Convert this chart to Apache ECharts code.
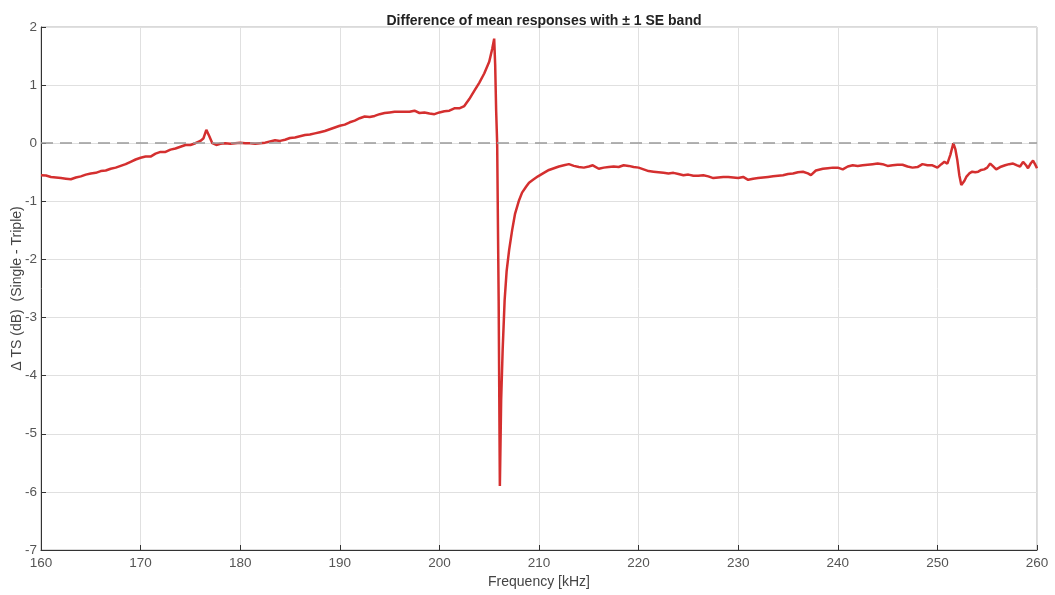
<!DOCTYPE html>
<html>
<head>
<meta charset="utf-8">
<script src="https://cdn.jsdelivr.net/npm/echarts@6/dist/echarts.min.js"></script>
<style>
html,body{margin:0;padding:0;background:#fff;}
#chart{width:1055px;height:595px;}
</style>
</head>
<body>
<div id="chart"></div>
<script>
// Frequency samples (kHz)
const freqKHz = [
  160,160.5,161,161.5,162,162.5,163,163.5,164,164.5,
  165,165.5,166,166.5,167,167.5,168,168.5,169,169.5,
  170,170.5,171,171.5,172,172.5,173,173.5,174,174.5,
  175,175.5,176,176.3,176.6,176.9,177.2,177.6,178,178.5,
  179,179.5,180,180.5,181,181.5,182,182.5,183,183.5,
  184,184.5,185,185.5,186,186.5,187,187.5,188,188.5,
  189,189.5,190,190.5,191,191.5,192,192.5,193,193.5,
  194,194.5,195,195.5,196,196.5,197,197.5,198,198.5,
  199,199.5,200,200.5,201,201.5,202,202.5,203,203.5,
  204,204.5,205,205.3,205.5,205.6,205.7,205.8,205.95,206.07,
  206.15,206.2,206.35,206.55,206.75,207.0,207.3,207.6,208.0,208.3,
  208.7,209.0,209.4,209.9,210.4,211,211.5,212,212.5,
  213,213.5,214,214.5,215,215.4,216,216.5,217,217.5,
  218,218.5,219,219.5,220,220.5,221,221.5,222,222.5,
  223,223.5,224,224.5,225,225.5,226,226.5,227,227.5,
  228,228.5,229,229.5,230,230.5,231,231.5,232,232.5,
  233,233.5,234,234.5,235,235.5,236,236.5,237,237.3,
  237.8,238.5,239,239.5,240,240.5,241,241.5,242,242.5,
  243,243.5,244,244.5,245,245.5,246,246.5,247,247.5,
  248,248.5,249,249.5,250,250.4,250.7,251,251.3,251.6,
  251.8,252,252.2,252.4,252.7,252.9,253.2,253.5,253.8,254.1,
  254.4,254.7,255,255.3,255.6,255.9,256.3,256.8,257.2,257.6,
  258,258.3,258.6,258.9,259.1,259.4,259.6,259.8,260
];
// Mean difference ΔTS (dB), Single - Triple
const meanDiff = [
  -0.55,-0.555,-0.58,-0.59,-0.60,-0.61,-0.62,-0.59,-0.57,-0.54,
  -0.52,-0.51,-0.48,-0.47,-0.44,-0.42,-0.39,-0.36,-0.32,-0.28,
  -0.25,-0.23,-0.23,-0.18,-0.15,-0.15,-0.11,-0.09,-0.06,-0.03,
  -0.03,0.0,0.04,0.08,0.23,0.12,0.0,-0.03,-0.01,0.0,
  -0.01,0.0,0.01,0.0,0.0,-0.01,0.0,0.01,0.03,0.05,
  0.04,0.06,0.09,0.10,0.12,0.14,0.15,0.17,0.19,0.21,
  0.24,0.27,0.30,0.32,0.36,0.39,0.43,0.46,0.45,0.47,
  0.50,0.52,0.53,0.54,0.54,0.54,0.54,0.56,0.52,0.53,
  0.51,0.50,0.53,0.55,0.56,0.60,0.60,0.64,0.76,0.90,
  1.04,1.20,1.40,1.62,1.80,1.35,0.55,0.00,-2.70,-5.90,
  -5.00,-4.42,-3.56,-2.70,-2.20,-1.84,-1.50,-1.21,-0.98,-0.85,
  -0.75,-0.68,-0.63,-0.57,-0.52,-0.46,-0.43,-0.40,-0.38,
  -0.36,-0.39,-0.41,-0.42,-0.40,-0.38,-0.44,-0.42,-0.41,-0.40,
  -0.41,-0.38,-0.39,-0.41,-0.42,-0.45,-0.48,-0.49,-0.50,-0.51,
  -0.52,-0.51,-0.53,-0.55,-0.54,-0.56,-0.56,-0.55,-0.57,-0.60,
  -0.59,-0.58,-0.58,-0.59,-0.60,-0.58,-0.63,-0.61,-0.60,-0.59,
  -0.58,-0.57,-0.56,-0.55,-0.53,-0.52,-0.50,-0.49,-0.52,-0.55,
  -0.47,-0.44,-0.43,-0.42,-0.42,-0.45,-0.40,-0.38,-0.39,-0.38,
  -0.37,-0.36,-0.35,-0.36,-0.39,-0.38,-0.37,-0.37,-0.40,-0.42,
  -0.41,-0.36,-0.38,-0.38,-0.42,-0.36,-0.32,-0.35,-0.20,0.00,
  -0.10,-0.29,-0.55,-0.72,-0.65,-0.58,-0.52,-0.49,-0.50,-0.49,
  -0.46,-0.45,-0.42,-0.35,-0.40,-0.45,-0.41,-0.38,-0.36,-0.35,
  -0.38,-0.40,-0.32,-0.38,-0.43,-0.34,-0.30,-0.36,-0.43
];
// Standard error (dB)
const seDiff = [
  0.025,0.025,0.025,0.025,0.025,0.025,0.025,0.025,0.025,0.025,
  0.025,0.025,0.025,0.025,0.025,0.025,0.025,0.025,0.025,0.025,
  0.025,0.025,0.025,0.025,0.025,0.025,0.025,0.025,0.025,0.025,
  0.025,0.025,0.03,0.035,0.04,0.035,0.03,0.025,0.025,0.025,
  0.025,0.025,0.025,0.025,0.025,0.025,0.025,0.025,0.025,0.025,
  0.025,0.025,0.025,0.025,0.025,0.025,0.025,0.025,0.025,0.025,
  0.03,0.03,0.03,0.03,0.03,0.03,0.03,0.03,0.03,0.03,
  0.03,0.03,0.03,0.03,0.03,0.03,0.03,0.03,0.03,0.03,
  0.03,0.03,0.03,0.03,0.03,0.03,0.03,0.03,0.035,0.035,
  0.04,0.045,0.05,0.06,0.08,0.08,0.08,0.08,0.08,0.08,
  0.08,0.08,0.07,0.06,0.05,0.05,0.045,0.045,0.04,0.04,
  0.04,0.04,0.04,0.04,0.04,0.04,0.04,0.04,0.04,
  0.04,0.04,0.04,0.04,0.04,0.04,0.04,0.04,0.04,0.04,
  0.04,0.04,0.04,0.04,0.04,0.04,0.04,0.04,0.04,0.04,
  0.04,0.04,0.045,0.045,0.045,0.045,0.045,0.045,0.045,0.045,
  0.045,0.045,0.045,0.045,0.045,0.045,0.045,0.045,0.045,0.045,
  0.05,0.05,0.05,0.05,0.05,0.05,0.055,0.055,0.055,0.055,
  0.055,0.055,0.055,0.055,0.055,0.055,0.055,0.055,0.055,0.055,
  0.06,0.06,0.06,0.06,0.06,0.06,0.06,0.06,0.06,0.06,
  0.06,0.06,0.06,0.06,0.06,0.06,0.06,0.06,0.06,0.06,
  0.06,0.06,0.06,0.06,0.06,0.06,0.06,0.06,0.06,0.06,
  0.06,0.06,0.06,0.06,0.06,0.06,0.06,0.06,0.06,0.06,
  0.06,0.06,0.06,0.06,0.06,0.06,0.06,0.06,0.06
];
const titleText = 'Difference of mean responses with \u00B1 1 SE band';
const xName = 'Frequency [kHz]';
const yName = '\u0394 TS (dB)  (Single - Triple)';

const n = Math.min(freqKHz.length, meanDiff.length, seDiff.length);
const meanData = [], lowData = [], spanData = [];
for (let i = 0; i < n; i++) {
  meanData.push([freqKHz[i], meanDiff[i]]);
  lowData.push([freqKHz[i], meanDiff[i] - seDiff[i]]);
  spanData.push([freqKHz[i], 2 * seDiff[i]]);
}

const FONT = '"Liberation Sans", Arial, sans-serif';
const chart = echarts.init(document.getElementById('chart'), null, {renderer: 'canvas'});
chart.setOption({
  animation: false,
  backgroundColor: '#ffffff',
  title: {
    text: titleText,
    left: 539, top: 9, textAlign: 'center',
    textStyle: {fontFamily: FONT, fontSize: 14, fontWeight: 'bold', color: '#222'}
  },
  grid: {
    left: 41, right: 18, top: 27, bottom: 45,
    containLabel: false, outerBoundsMode: 'none',
    show: true, borderColor: '#b5b5b5', borderWidth: 1, backgroundColor: '#ffffff'
  },
  xAxis: {
    type: 'value', min: 160, max: 260, interval: 10,
    name: xName, nameLocation: 'middle', nameGap: 25, nameMoveOverlap: false,
    nameTextStyle: {fontFamily: FONT, fontSize: 14, color: '#444'},
    axisLine: {show: true, onZero: false, lineStyle: {color: '#333', width: 1}},
    axisTick: {show: true, inside: true, length: 5, lineStyle: {color: '#333'}},
    axisLabel: {fontFamily: FONT, fontSize: 13.5, color: '#555', margin: 6},
    splitLine: {show: true, lineStyle: {color: '#e0e0e0', width: 1}}
  },
  yAxis: {
    type: 'value', min: -7, max: 2, interval: 1,
    name: yName, nameLocation: 'middle', nameGap: 17, nameRotate: 90, nameMoveOverlap: false,
    nameTextStyle: {fontFamily: FONT, fontSize: 14, color: '#444'},
    axisLine: {show: true, onZero: false, lineStyle: {color: '#333', width: 1}},
    axisTick: {show: true, inside: true, length: 5, lineStyle: {color: '#333'}},
    axisLabel: {fontFamily: FONT, fontSize: 13.5, color: '#555', margin: 4},
    splitLine: {show: true, lineStyle: {color: '#e0e0e0', width: 1}}
  },
  series: [
    {
      type: 'line', data: lowData, stack: 'band', symbol: 'none',
      lineStyle: {opacity: 0}, silent: true, z: 1
    },
    {
      type: 'line', data: spanData, stack: 'band', symbol: 'none',
      lineStyle: {opacity: 0}, areaStyle: {color: 'rgba(214,39,40,0.22)'}, silent: true, z: 1
    },
    {
      type: 'line', data: meanData, symbol: 'none', z: 3,
      lineStyle: {color: '#d42f2f', width: 2.5},
      markLine: {
        silent: true, symbol: 'none', label: {show: false},
        lineStyle: {color: '#9a9a9a', type: [12, 7], width: 1.5},
        data: [{yAxis: 0}]
      }
    }
  ]
});
</script>
</body>
</html>
